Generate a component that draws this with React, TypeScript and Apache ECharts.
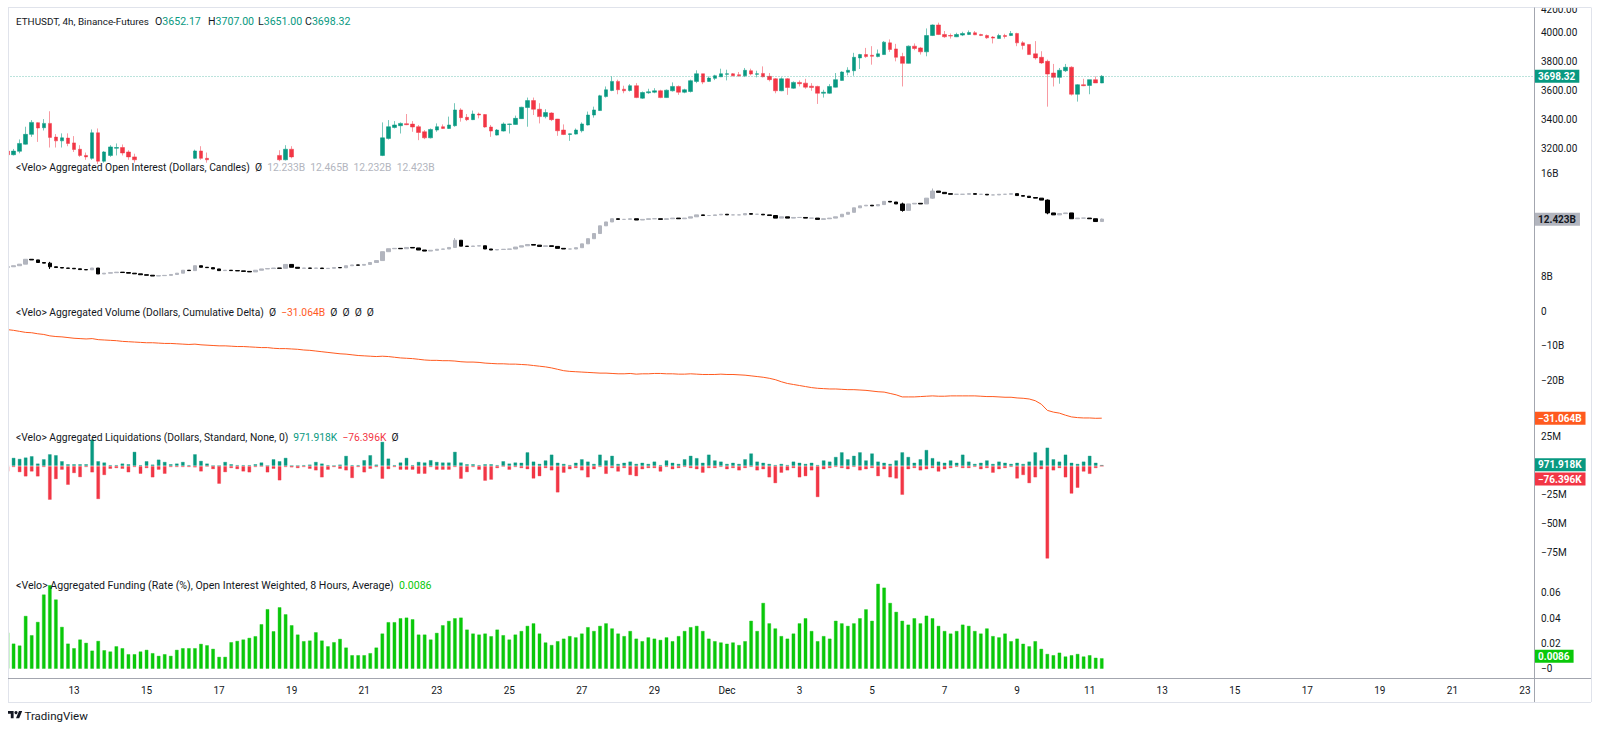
import React, { useEffect, useRef } from 'react';
import * as echarts from 'echarts';

// ---------- time axis ----------
const START_UTC = Date.UTC(2024, 10, 11, 4); // first 4h bar: Nov 11 04:00
const SLOT_COUNT = 253; // visible 4h slots incl. empty future space
const tickDates = ['2024-11-13', '2024-11-15', '2024-11-17', '2024-11-19', '2024-11-21', '2024-11-23', '2024-11-25', '2024-11-27', '2024-11-29', '2024-12-01', '2024-12-03', '2024-12-05', '2024-12-07', '2024-12-09', '2024-12-11', '2024-12-13', '2024-12-15', '2024-12-17', '2024-12-19', '2024-12-21', '2024-12-23'];
const tickTexts = ['13', '15', '17', '19', '21', '23', '25', '27', '29', 'Dec', '3', '5', '7', '9', '11', '13', '15', '17', '19', '21', '23'];

// ---------- price (ETHUSDT 4h) rows: [open, high, low, close] ----------
const priceBars: number[][] = [
  [3180, 3185, 3140, 3155], [3155, 3195, 3150, 3180], [3179, 3261, 3165, 3233], [3228, 3349, 3225, 3296], [3296, 3395, 3279, 3379],
  [3377, 3380, 3244, 3340], [3342, 3402, 3323, 3372], [3372, 3456, 3205, 3275], [3277, 3298, 3205, 3251], [3251, 3303, 3205, 3272],
  [3270, 3303, 3214, 3233], [3237, 3284, 3174, 3191], [3193, 3221, 3140, 3150], [3150, 3170, 3120, 3140], [3130, 3330, 3120, 3307],
  [3307, 3337, 3090, 3110], [3110, 3180, 3100, 3174], [3150, 3221, 3140, 3209], [3200, 3233, 3150, 3205], [3205, 3226, 3150, 3167],
  [3174, 3186, 3120, 3140], [3140, 3162, 3100, 3120], [3120, 3140, 3060, 3080], [3080, 3100, 3030, 3060], [3060, 3115, 3040, 3100],
  [3100, 3120, 3070, 3085], [3085, 3095, 3020, 3050], [3050, 3085, 3030, 3070], [3070, 3120, 3060, 3100], [3100, 3140, 3090, 3120],
  [3120, 3155, 3110, 3140], [3130, 3190, 3125, 3181], [3181, 3214, 3120, 3130], [3130, 3170, 3100, 3120], [3120, 3140, 3090, 3100],
  [3100, 3120, 3070, 3090], [3090, 3125, 3080, 3110], [3110, 3120, 3060, 3080], [3080, 3095, 3050, 3070], [3070, 3105, 3060, 3090],
  [3090, 3120, 3080, 3100], [3100, 3115, 3070, 3085], [3085, 3130, 3075, 3110], [3110, 3140, 3100, 3120], [3120, 3155, 3110, 3140],
  [3150, 3186, 3110, 3120], [3120, 3221, 3115, 3193], [3193, 3214, 3130, 3140], [3140, 3150, 3090, 3110], [3110, 3125, 3070, 3090],
  [3090, 3100, 3060, 3080], [3080, 3115, 3070, 3100], [3100, 3110, 3050, 3070], [3070, 3095, 3055, 3080], [3080, 3110, 3070, 3095],
  [3095, 3105, 3070, 3085], [3085, 3125, 3080, 3110], [3110, 3120, 3070, 3090], [3090, 3110, 3080, 3100], [3100, 3135, 3090, 3120],
  [3120, 3150, 3110, 3130], [3130, 3155, 3120, 3150], [3150, 3379, 3145, 3272], [3268, 3395, 3260, 3349], [3344, 3388, 3337, 3361],
  [3356, 3379, 3302, 3372], [3370, 3437, 3360, 3363], [3367, 3388, 3314, 3347], [3349, 3361, 3256, 3309], [3314, 3326, 3263, 3272],
  [3272, 3337, 3268, 3330], [3326, 3372, 3314, 3349], [3349, 3365, 3333, 3337], [3337, 3419, 3333, 3361], [3356, 3512, 3349, 3465],
  [3465, 3477, 3384, 3412], [3414, 3437, 3388, 3398], [3398, 3461, 3395, 3437], [3437, 3447, 3407, 3430], [3433, 3437, 3342, 3347],
  [3347, 3361, 3279, 3319], [3291, 3333, 3288, 3326], [3319, 3379, 3316, 3368], [3365, 3370, 3302, 3368], [3365, 3426, 3363, 3407],
  [3405, 3487, 3403, 3484], [3482, 3551, 3349, 3530], [3530, 3551, 3430, 3470], [3470, 3512, 3372, 3419], [3419, 3470, 3407, 3447],
  [3444, 3449, 3388, 3398], [3402, 3403, 3286, 3321], [3326, 3365, 3291, 3295], [3295, 3302, 3251, 3300], [3298, 3337, 3295, 3326],
  [3321, 3379, 3309, 3368], [3361, 3454, 3358, 3430], [3430, 3488, 3412, 3465], [3461, 3570, 3458, 3563], [3558, 3628, 3551, 3605],
  [3600, 3698, 3595, 3663], [3663, 3675, 3574, 3605], [3609, 3633, 3581, 3598], [3600, 3644, 3593, 3633], [3633, 3651, 3547, 3551],
  [3547, 3593, 3542, 3586], [3584, 3612, 3577, 3591], [3588, 3616, 3581, 3598], [3598, 3605, 3547, 3551], [3551, 3607, 3549, 3602],
  [3598, 3656, 3593, 3628], [3628, 3635, 3570, 3588], [3588, 3612, 3581, 3605], [3593, 3675, 3586, 3668], [3663, 3740, 3651, 3716],
  [3716, 3716, 3644, 3658], [3663, 3698, 3660, 3686], [3684, 3709, 3672, 3702], [3695, 3751, 3693, 3716], [3712, 3744, 3670, 3716],
  [3716, 3721, 3698, 3702], [3709, 3728, 3695, 3702], [3702, 3756, 3693, 3740], [3737, 3751, 3705, 3714], [3712, 3737, 3691, 3716],
  [3718, 3767, 3691, 3695], [3698, 3721, 3663, 3675], [3681, 3686, 3581, 3598], [3598, 3691, 3595, 3681], [3681, 3686, 3570, 3621],
  [3616, 3663, 3612, 3656], [3656, 3670, 3628, 3647], [3651, 3681, 3612, 3623], [3630, 3651, 3598, 3621], [3628, 3633, 3507, 3581],
  [3581, 3605, 3551, 3588], [3581, 3644, 3577, 3628], [3623, 3721, 3621, 3675], [3670, 3733, 3668, 3728], [3726, 3761, 3705, 3740],
  [3737, 3861, 3702, 3830], [3826, 3854, 3749, 3849], [3849, 3895, 3826, 3835], [3844, 3907, 3779, 3837], [3835, 3884, 3830, 3854],
  [3849, 3942, 3847, 3935], [3930, 3954, 3868, 3884], [3888, 3923, 3802, 3830], [3835, 3861, 3628, 3788], [3788, 3912, 3786, 3907],
  [3907, 3926, 3879, 3891], [3895, 3902, 3849, 3868], [3868, 4030, 3837, 3981], [3981, 4058, 3977, 4054], [4054, 4070, 3984, 3988],
  [3988, 4012, 3965, 3972], [3981, 3995, 3960, 3977], [3972, 4000, 3970, 3988], [3984, 4007, 3977, 3995], [3988, 4016, 3984, 4002],
  [4000, 4012, 3984, 3986], [3988, 3993, 3977, 3981], [3981, 3988, 3958, 3965], [3970, 3977, 3926, 3963], [3960, 3993, 3958, 3981],
  [3981, 3993, 3960, 3974], [3981, 4012, 3977, 3995], [3995, 4000, 3907, 3930], [3930, 3942, 3884, 3912], [3919, 3919, 3847, 3849],
  [3854, 3942, 3814, 3826], [3830, 3872, 3784, 3791], [3802, 3814, 3488, 3714], [3721, 3784, 3628, 3691], [3691, 3756, 3647, 3740],
  [3737, 3784, 3728, 3761], [3761, 3768, 3565, 3574], [3574, 3644, 3523, 3640], [3640, 3681, 3630, 3633], [3635, 3675, 3574, 3675],
  [3675, 3698, 3656, 3652.17], [3652.17, 3707.0, 3651.0, 3698.32],
];
const priceTicks = [3200, 3400, 3600, 3800, 4000, 4200];

// ---------- aggregated open interest (billions USD), candle closes ----------
const oiClose = [
  8.72, 8.8, 8.92, 9.3, 9.25, 9.05, 9.0, 8.72, 8.66, 8.62,
  8.6, 8.56, 8.5, 8.48, 8.62, 8.16, 8.22, 8.26, 8.3, 8.27,
  8.22, 8.17, 8.1, 8.06, 8.0, 8.03, 8.05, 8.12, 8.22, 8.45,
  8.42, 8.8, 8.68, 8.65, 8.55, 8.42, 8.45, 8.42, 8.4, 8.36,
  8.32, 8.45, 8.55, 8.58, 8.62, 8.6, 8.9, 8.68, 8.6, 8.62,
  8.6, 8.62, 8.58, 8.6, 8.66, 8.64, 8.8, 8.86, 8.84, 8.9,
  9.05, 9.2, 9.89, 10.12, 10.15, 10.12, 10.22, 10.18, 10.02, 9.94,
  10.0, 10.08, 10.1, 10.22, 10.78, 10.32, 10.3, 10.33, 10.35, 10.1,
  10.02, 10.06, 10.08, 10.1, 10.25, 10.35, 10.45, 10.4, 10.3, 10.35,
  10.3, 10.15, 10.1, 10.1, 10.2, 10.5, 10.9, 11.3, 11.9, 12.2,
  12.45, 12.4, 12.4, 12.45, 12.35, 12.4, 12.45, 12.45, 12.4, 12.45,
  12.5, 12.45, 12.5, 12.6, 12.75, 12.7, 12.7, 12.75, 12.8, 12.75,
  12.75, 12.75, 12.85, 12.8, 12.8, 12.75, 12.7, 12.5, 12.6, 12.5,
  12.55, 12.55, 12.5, 12.5, 12.4, 12.45, 12.5, 12.6, 12.8, 12.95,
  13.3, 13.45, 13.5, 13.45, 13.55, 13.8, 13.75, 13.6, 13.1, 13.6,
  13.65, 13.6, 14.05, 14.6, 14.5, 14.4, 14.35, 14.35, 14.35, 14.4,
  14.35, 14.35, 14.3, 14.3, 14.35, 14.35, 14.4, 14.25, 14.2, 14.1,
  14.05, 13.9, 12.9, 12.75, 12.85, 12.9, 12.45, 12.5, 12.5, 12.45,
  12.233, 12.423,
];
const oiFirstOpen = 8.68;
// [index, high, low] for candles with visible wicks
const oiWicks: number[][] = [[7, 9.1, 8.55], [74, 10.95, 10.2], [148, 13.7, 13.0], [153, 14.8, 14.0], [172, 13.95, 12.8], [181, 12.465, 12.232]];
const oiTicks = [8, 16];

// ---------- cumulative volume delta (billions USD) ----------
const cvd = [
  -5.4, -5.6, -5.9, -6.2, -6.3, -6.6, -6.8, -7.2, -7.4, -7.5,
  -7.7, -7.9, -8.0, -8.1, -8.0, -8.3, -8.4, -8.5, -8.6, -8.8,
  -8.9, -9.0, -9.1, -9.2, -9.2, -9.3, -9.4, -9.4, -9.5, -9.6,
  -9.7, -9.6, -9.8, -9.9, -10.0, -10.1, -10.1, -10.2, -10.3, -10.3,
  -10.4, -10.5, -10.6, -10.6, -10.8, -10.9, -10.9, -11.0, -11.1, -11.3,
  -11.4, -11.6, -11.8, -12.0, -12.2, -12.4, -12.5, -12.7, -12.9, -13.0,
  -13.1, -13.2, -13.1, -13.2, -13.4, -13.6, -13.7, -13.8, -14.0, -14.2,
  -14.3, -14.3, -14.4, -14.4, -14.5, -14.7, -14.8, -14.8, -14.9, -15.1,
  -15.2, -15.3, -15.3, -15.4, -15.4, -15.5, -15.6, -15.8, -16.0, -16.2,
  -16.5, -16.9, -17.3, -17.5, -17.6, -17.7, -17.8, -17.9, -18.0, -18.0,
  -18.1, -18.2, -18.2, -18.1, -18.3, -18.2, -18.2, -18.1, -18.1, -18.2,
  -18.2, -18.3, -18.3, -18.2, -18.3, -18.4, -18.4, -18.4, -18.3, -18.4,
  -18.4, -18.5, -18.6, -18.8, -19.0, -19.2, -19.5, -19.9, -20.5, -21.0,
  -21.3, -21.6, -21.9, -22.2, -22.4, -22.5, -22.6, -22.6, -22.7, -22.8,
  -22.8, -22.9, -23.0, -23.2, -23.4, -23.5, -23.9, -24.3, -24.9, -24.9,
  -24.9, -24.8, -24.7, -24.6, -24.7, -24.7, -24.6, -24.6, -24.6, -24.6,
  -24.6, -24.7, -24.8, -24.8, -24.9, -25.0, -25.0, -25.2, -25.3, -25.5,
  -26.0, -27.0, -28.8, -29.3, -29.6, -30.2, -30.7, -30.9, -31.0, -31.0,
  -31.1, -31.064,
];
const cvdTicks = [0, -10, -20];

// ---------- liquidations (millions USD) ----------
const liqShorts = [
  1, 7.2, 6.3, 7.5, 8.6, 2.3, 6.0, 10.3, 9.5, 4.3,
  1.7, 1.7, 1.7, 1.7, 23, 4.3, 3.2, 0.9, 0.9, 2.3,
  1.7, 12.4, 0.9, 4.3, 1.4, 5.7, 3.7, 1.7, 2.3, 3.7,
  0.9, 10.3, 4.6, 2.3, 0.3, 0.3, 3.7, 1.7, 0.9, 0.9,
  0.9, 1.7, 3.2, 0.3, 6.0, 4.3, 7.2, 0.3, 0.3, 0.9,
  1.4, 3.7, 2.3, 0.9, 0.3, 1.4, 8.9, 0.9, 0.9, 5.2,
  9.5, 1.4, 21, 6.6, 0.9, 3.2, 7.2, 0.9, 3.7, 3.2,
  5.2, 3.7, 3.2, 3.2, 12.4, 3.2, 1.7, 1.7, 0.9, 1.7,
  1.7, 0.9, 4.3, 2.3, 3.2, 3, 12, 4, 2, 5,
  10, 3, 2, 1, 3, 6, 4, 2, 10, 5,
  9, 2, 3, 4, 2, 3, 2, 4, 1, 5,
  3, 2, 6, 9, 7, 3, 10, 5, 4, 2,
  3, 2, 6, 11, 4, 3, 2, 1, 2, 1,
  4, 3, 2, 3, 1, 5, 4, 8, 12, 6,
  9, 12, 5, 11, 4, 3, 2, 5, 12, 8,
  3, 6, 14, 7, 4, 3, 5, 3, 10, 4,
  2, 3, 5, 2, 4, 3, 2, 3, 2, 4,
  12, 5, 16, 6, 4, 10, 3, 2, 4, 9,
  3, 0.971918,
];
const liqLongs = [
  -5, -1.1, -5.5, -9.2, -4.9, -9.2, -1.1, -29.3, -11.5, -3.4,
  -16.4, -6.3, -9.8, -1.1, -5.7, -28.7, -8.0, -2.6, -2.0, -2.6,
  -5.7, -1.1, -6.9, -2.0, -10.0, -3.4, -6.9, -1.1, -1.1, -1.1,
  -1.1, -1.4, -4.9, -0.5, -2.9, -15.5, -5.5, -2.0, -2.9, -4.9,
  -5.7, -1.1, -0.5, -5.7, -2.6, -12.6, -1.1, -1.4, -2.0, -1.1,
  -2.6, -4.0, -10.0, -3.4, -1.1, -2.6, -4.0, -10.6, -1.1, -5.7,
  -2.6, -1.1, -11.2, -2.9, -1.1, -3.4, -3.4, -3.4, -6.9, -6.9,
  -1.1, -3.4, -3.4, -3.4, -1.1, -11.2, -5.5, -1.1, -3.4, -12.9,
  -12.0, -2.0, -0.5, -3.4, -1.1, -2, -3, -11, -9, -2,
  -4, -23, -6, -3, -2, -4, -10, -3, -1, -7,
  -2, -5, -2, -8, -9, -3, -2, -2, -5, -1,
  -3, -2, -1, -2, -3, -6, -2, -2, -1, -3,
  -2, -4, -2, -1, -4, -3, -10, -15, -6, -4,
  -2, -10, -9, -4, -27, -3, -2, -1, -2, -3,
  -1, -4, -3, -2, -9, -3, -10, -11, -25, -3,
  -2, -4, -3, -2, -5, -3, -2, -1, -2, -2,
  -1, -3, -2, -6, -3, -2, -1, -11, -8, -15,
  -10, -3, -80, -4, -2, -10, -24, -19, -5, -7,
  -2, -0.076396,
];
const liqTicks = [25, -25, -50, -75];

// ---------- funding rate (%) ----------
const funding = [
  0.0288, 0.0201, 0.0186, 0.0418, 0.0267, 0.0371, 0.0586, 0.0659, 0.0547, 0.0332,
  0.0201, 0.0165, 0.0233, 0.0207, 0.0146, 0.0222, 0.0149, 0.0139, 0.018, 0.0165,
  0.0118, 0.0118, 0.0139, 0.0152, 0.0126, 0.0105, 0.0118, 0.0105, 0.0152, 0.0165,
  0.0165, 0.0165, 0.0199, 0.0188, 0.016, 0.0097, 0.0097, 0.0212, 0.0222, 0.0233,
  0.0246, 0.0259, 0.0353, 0.0471, 0.0298, 0.0486, 0.0431, 0.0345, 0.0272, 0.022,
  0.0225, 0.029, 0.0225, 0.018, 0.0212, 0.0238, 0.017, 0.011, 0.011, 0.011,
  0.0126, 0.017, 0.028, 0.0369, 0.0369, 0.04, 0.0405, 0.0392, 0.0272, 0.0272,
  0.0233, 0.0285, 0.0345, 0.0379, 0.04, 0.0405, 0.0311, 0.028, 0.0272, 0.028,
  0.0259, 0.0311, 0.0267, 0.0233, 0.0272, 0.03, 0.034, 0.036, 0.028, 0.021,
  0.019, 0.022, 0.024, 0.026, 0.025, 0.028, 0.033, 0.03, 0.034, 0.036,
  0.032, 0.028, 0.026, 0.03, 0.024, 0.022, 0.025, 0.024, 0.023, 0.025,
  0.022, 0.026, 0.03, 0.033, 0.034, 0.03, 0.024, 0.022, 0.021, 0.02,
  0.021, 0.019, 0.022, 0.038, 0.03, 0.052, 0.036, 0.032, 0.026, 0.024,
  0.028, 0.036, 0.04, 0.03, 0.022, 0.026, 0.024, 0.038, 0.036, 0.034,
  0.036, 0.04, 0.047, 0.038, 0.067, 0.064, 0.052, 0.045, 0.038, 0.035,
  0.04, 0.036, 0.042, 0.04, 0.034, 0.03, 0.028, 0.03, 0.035, 0.034,
  0.03, 0.028, 0.032, 0.026, 0.025, 0.028, 0.022, 0.024, 0.02, 0.018,
  0.022, 0.016, 0.012, 0.011, 0.013, 0.01, 0.011, 0.012, 0.01, 0.011,
  0.009, 0.0086,
];
const fundingTicks = [0, 0.02, 0.04, 0.06];
const fundingTickTexts = ['−0', '0.02', '0.04', '0.06'];

// ---------- styling ----------
const FONT = 'Roboto, "Liberation Sans", Arial, sans-serif';
const TEXT = '#131722';
const UP = '#089981';
const DOWN = '#F23645';
const OI_UP = '#B2B5BE';
const OI_DOWN = '#000000';
const CVD_COLOR = '#FF5A1F';
const FUND_COLOR = '#0AC80A';
const TITLE_SIZE = 10.3;

const pad2 = (n: number) => (n < 10 ? '0' + n : '' + n);
const minus = (s: string) => s.replace('-', '−');

export default function App() {
  const ref = useRef<HTMLDivElement>(null);

  useEffect(() => {
    if (!ref.current) return;
    echarts.graphic.registerShape(
      'tvlogo',
      echarts.graphic.extendPath('M14 22H7V11H0V4h14v18zM28 22h-8l7.5-18h8L28 22z', {}) as any
    );
    const chart = echarts.init(ref.current, undefined, { renderer: 'svg' });

    const categories: string[] = [];
    for (let k = 0; k < SLOT_COUNT; k++) {
      const d = new Date(START_UTC + k * 4 * 3600 * 1000);
      categories.push(`${d.getUTCFullYear()}-${pad2(d.getUTCMonth() + 1)}-${pad2(d.getUTCDate())} ${pad2(d.getUTCHours())}:00`);
    }
    const tickMap: Record<string, string> = {};
    tickDates.forEach((d, i) => (tickMap[d + ' 00:00'] = tickTexts[i]));

    // ECharts candlestick: [open, close, low, high]
    const priceData = priceBars.map((r) => [r[0], r[3], r[2], r[1]]);
    const oiData = oiClose.map((c, i) => {
      const o = i === 0 ? oiFirstOpen : oiClose[i - 1];
      let hi = Math.max(o, c);
      let lo = Math.min(o, c);
      const w = oiWicks.find((x) => x[0] === i);
      if (w) {
        hi = Math.max(hi, w[1]);
        lo = Math.min(lo, w[2]);
      }
      return [o, c, lo, hi];
    });
    const oiLast = oiData[oiData.length - 1];
    const lastBar = priceBars[priceBars.length - 1];
    const lastCvd = cvd[cvd.length - 1];
    const lastShort = liqShorts[liqShorts.length - 1];
    const lastLong = liqLongs[liqLongs.length - 1];
    const lastFund = funding[funding.length - 1];

    const fmtK = (m: number) => minus((m * 1000).toFixed(3)) + 'K';
    const grids = [
      { top: 0, height: 154 },
      { top: 154, height: 143 },
      { top: 297, height: 128 },
      { top: 425, height: 147 },
      { top: 572, height: 106 },
    ].map((g) => ({ ...g, left: 4.5, right: 66 }));

    const yBase = (gridIndex: number, min: number, max: number, ticks: number[], fmt: (v: number) => string, extraRich: any = {}) => ({
      type: 'value',
      gridIndex,
      position: 'right',
      min,
      max,
      axisLine: { show: false },
      axisTick: { show: false },
      splitLine: { show: false },
      axisLabel: {
        customValues: ticks,
        formatter: fmt,
        color: TEXT,
        fontSize: 10,
        fontFamily: FONT,
        margin: 7,
        showMinLabel: true,
        showMaxLabel: true,
        rich: extraRich,
      },
    });

    const endLabel = (text: string, bg: string, fg: string) => ({
      show: true,
      position: 'end',
      distance: 0,
      formatter: text,
      backgroundColor: bg,
      color: fg,
      opacity: 1,
      padding: [2, 4, 1, 4],
      fontSize: 10,
      fontWeight: 'bold',
      fontFamily: FONT,
    });
    const hiddenLine = { color: 'rgba(255,255,255,0)', width: 0 };

    const richText = (parts: [string, string][], size: number) => {
      const richStyles: Record<string, any> = {};
      const text = parts
        .map(([t, col], i) => {
          richStyles['p' + i] = { fill: col, fontSize: size, fontFamily: FONT };
          return `{p${i}|${t}}`;
        })
        .join('');
      return { text, rich: richStyles };
    };
    const titleText = (x: number, y: number, parts: [string, string][], size = TITLE_SIZE) => ({
      type: 'text',
      x,
      y,
      z: 120,
      style: { ...richText(parts, size), verticalAlign: 'middle', fontSize: size, fontFamily: FONT },
    });

    const fmtOI = (v: number) => v.toFixed(3) + 'B';
    const headerParts: any[] = [
      titleText(16, 21, [['ETHUSDT, 4h, Binance-Futures', TEXT]], 9.9),
      titleText(155, 21, [['O', TEXT], [lastBar[0].toFixed(2), UP]], 10.6),
      titleText(208, 21, [['H', TEXT], [lastBar[1].toFixed(2), UP]], 10.6),
      titleText(258, 21, [['L', TEXT], [lastBar[2].toFixed(2), UP]], 10.6),
      titleText(305, 21, [['C', TEXT], [lastBar[3].toFixed(2), UP]], 10.6),
    ];
    const oiTitle = titleText(16, 167, [
      ['<Velo> Aggregated Open Interest (Dollars, Candles)  Ø  ', TEXT],
      [`${fmtOI(oiLast[0])}  ${fmtOI(oiLast[3])}  ${fmtOI(oiLast[2])}  ${fmtOI(oiLast[1])}`, '#B2B5BE'],
    ]);
    const cvdTitle = titleText(16, 312, [
      ['<Velo> Aggregated Volume (Dollars, Cumulative Delta)  Ø  ', TEXT],
      [minus(lastCvd.toFixed(3)) + 'B', CVD_COLOR],
      ['  Ø  Ø  Ø  Ø', TEXT],
    ]);
    const liqTitle = titleText(16, 437, [
      ['<Velo> Aggregated Liquidations (Dollars, Standard, None, 0)  ', TEXT],
      [fmtK(lastShort) + '  ', UP],
      [fmtK(lastLong), DOWN],
      ['  Ø', TEXT],
    ]);
    const fundTitle = titleText(16, 585, [
      ['<Velo> Aggregated Funding (Rate (%), Open Interest Weighted, 8 Hours, Average)  ', TEXT],
      [String(lastFund), FUND_COLOR],
    ], 10.6);

    const BORDER = '#E0E3EB';
    const AXIS = '#A3A6AF';
    const line = (x1: number, y1: number, x2: number, y2: number, stroke: string) => ({
      type: 'line',
      z: 110,
      silent: true,
      shape: { x1, y1, x2, y2 },
      style: { stroke, lineWidth: 1 },
    });

    const option: any = {
      animation: false,
      backgroundColor: '#ffffff',
      grid: grids,
      xAxis: grids.map((_, i) => ({
        type: 'category',
        gridIndex: i,
        data: categories,
        boundaryGap: true,
        show: i === 4,
        axisLine: { show: false },
        axisTick: { show: false },
        splitLine: { show: false },
        axisLabel: {
          show: i === 4,
          interval: (_idx: number, val: string) => tickMap[val] !== undefined,
          formatter: (val: string) => tickMap[val] ?? '',
          color: TEXT,
          fontSize: 10,
          fontFamily: FONT,
          margin: 7,
        },
      })),
      yAxis: [
        yBase(0, 3160, 4227, priceTicks, (v) => (v === 4200 ? `{top|${v.toFixed(2)}}` : v.toFixed(2)), {
          top: { padding: [12, 0, 0, 0], fontSize: 10, color: TEXT, fontFamily: FONT },
        }),
        yBase(1, 6.37, 17.48, oiTicks, (v) => v + 'B'),
        yBase(2, -33.04, 4.06, cvdTicks, (v) => (v === 0 ? '0' : minus(String(v)) + 'B')),
        yBase(3, -91.4, 35.34, liqTicks, (v) => minus(String(v)) + 'M'),
        yBase(4, -0.00706, 0.07608, fundingTicks, (v) => {
          const k = fundingTicks.findIndex((t) => Math.abs(t - v) < 1e-9);
          return k >= 0 ? fundingTickTexts[k] : '';
        }),
      ],
      series: [
        {
          name: 'ETHUSDT',
          type: 'candlestick',
          xAxisIndex: 0,
          yAxisIndex: 0,
          clip: true,
          barWidth: 4,
          data: priceData,
          itemStyle: {
            color: UP,
            color0: DOWN,
            borderColor: 'rgba(8,153,129,0.55)',
            borderColor0: 'rgba(242,54,69,0.5)',
            borderWidth: 1,
          },
          markLine: {
            silent: true,
            symbol: ['none', 'none'],
            data: [{ yAxis: lastBar[3] }],
            lineStyle: { color: 'rgba(8,153,129,0.55)', type: [1, 2], width: 1 },
            label: endLabel(lastBar[3].toFixed(2), UP, '#ffffff'),
          },
        },
        {
          name: 'Open Interest',
          type: 'candlestick',
          xAxisIndex: 1,
          yAxisIndex: 1,
          barWidth: 4,
          data: oiData,
          itemStyle: { color: OI_UP, color0: OI_DOWN, borderColor: OI_UP, borderColor0: OI_DOWN, borderWidth: 1 },
          markLine: {
            silent: true,
            symbol: ['none', 'none'],
            data: [{ yAxis: oiLast[1] }],
            lineStyle: hiddenLine,
            label: endLabel(fmtOI(oiLast[1]), '#B2B5BE', TEXT),
          },
        },
        {
          name: 'CVD',
          type: 'line',
          xAxisIndex: 2,
          yAxisIndex: 2,
          data: cvd,
          showSymbol: false,
          symbol: 'none',
          lineStyle: { color: CVD_COLOR, width: 1 },
          itemStyle: { color: CVD_COLOR },
          markLine: {
            silent: true,
            symbol: ['none', 'none'],
            data: [{ yAxis: lastCvd }],
            lineStyle: hiddenLine,
            label: endLabel(minus(lastCvd.toFixed(3)) + 'B', CVD_COLOR, '#ffffff'),
          },
        },
        {
          name: 'Short liquidations',
          type: 'bar',
          xAxisIndex: 3,
          yAxisIndex: 3,
          data: liqShorts,
          barWidth: 4,
          barGap: '-100%',
          itemStyle: { color: UP, borderColor: 'rgba(8,153,129,0.35)', borderWidth: 1 },
          markLine: {
            silent: true,
            symbol: ['none', 'none'],
            data: [{ yAxis: lastShort }],
            lineStyle: hiddenLine,
            label: endLabel(fmtK(lastShort), UP, '#ffffff'),
          },
        },
        {
          name: 'Long liquidations',
          type: 'bar',
          xAxisIndex: 3,
          yAxisIndex: 3,
          data: liqLongs,
          barWidth: 4,
          barGap: '-100%',
          itemStyle: { color: DOWN, borderColor: 'rgba(242,54,69,0.35)', borderWidth: 1 },
          markLine: {
            silent: true,
            symbol: ['none', 'none'],
            data: [{ yAxis: lastLong }],
            lineStyle: hiddenLine,
            label: {
              show: true,
              position: 'end',
              distance: 0,
              formatter: `{s| }\n{v|${fmtK(lastLong)}}`,
              rich: {
                s: { height: 26, lineHeight: 26, fontSize: 10 },
                v: {
                  backgroundColor: DOWN,
                  color: '#ffffff',
                  padding: [2, 4, 1, 4],
                  fontSize: 10,
                  fontWeight: 'bold',
                  fontFamily: FONT,
                  lineHeight: 13,
                },
              },
            },
          },
        },
        {
          name: 'Funding',
          type: 'bar',
          xAxisIndex: 4,
          yAxisIndex: 4,
          data: funding,
          barWidth: 4,
          itemStyle: { color: FUND_COLOR, borderColor: 'rgba(10,200,10,0.4)', borderWidth: 1 },
          markLine: {
            silent: true,
            symbol: ['none', 'none'],
            data: [{ yAxis: lastFund }],
            lineStyle: hiddenLine,
            label: endLabel(String(lastFund), FUND_COLOR, '#ffffff'),
          },
        },
      ],
      graphic: [
        { type: 'rect', z: 100, silent: true, shape: { x: 0, y: 0, width: 8, height: 732 }, style: { fill: '#ffffff' } },
        { type: 'rect', z: 100, silent: true, shape: { x: 0, y: 0, width: 1600, height: 7.5 }, style: { fill: '#ffffff' } },
        { type: 'rect', z: 100, silent: true, shape: { x: 1534, y: 679, width: 66, height: 53 }, style: { fill: '#ffffff' } },
        line(8, 7.5, 1591, 7.5, BORDER),
        line(8.5, 7.5, 8.5, 702, BORDER),
        line(1591.5, 7.5, 1591.5, 702, BORDER),
        line(8, 702.5, 1591, 702.5, BORDER),
        line(1534.5, 7.5, 1534.5, 702, AXIS),
        line(8, 678.5, 1591, 678.5, AXIS),
        ...headerParts,
        oiTitle,
        cvdTitle,
        liqTitle,
        fundTitle,
        { type: 'tvlogo', x: 8, y: 709.4, scaleX: 0.4, scaleY: 0.4, z: 120, style: { fill: TEXT } },
        { type: 'circle', z: 120, shape: { cx: 8 + 20 * 0.4, cy: 709.4 + 8 * 0.4, r: 1.6 }, style: { fill: TEXT } },
        {
          type: 'text',
          x: 24.5,
          y: 716,
          z: 120,
          style: { text: 'TradingView', fill: TEXT, fontSize: 11.5, fontFamily: FONT, verticalAlign: 'middle' },
        },
      ],
    };

    chart.setOption(option);
    return () => chart.dispose();
  }, []);

  return (
    <div
      ref={ref}
      style={{ position: 'absolute', left: 0, top: 0, width: 1600, height: 732, background: '#fff' }}
    />
  );
}
